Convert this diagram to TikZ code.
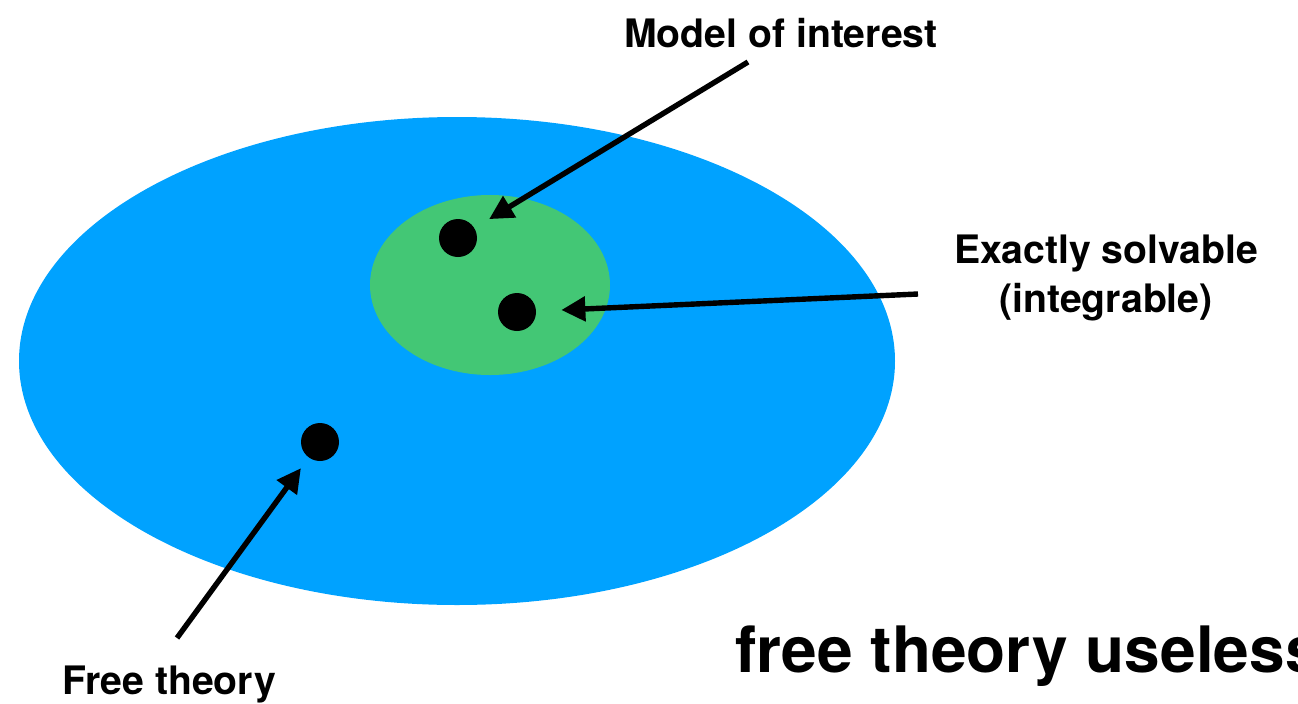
\documentclass[tikz,border=0pt]{standalone}
\usepackage{fontspec}
\setmainfont{TeX Gyre Heros}
\usepackage{tikz}
\usetikzlibrary{arrows.meta,positioning}
\definecolor{setblue}{HTML}{00A2FF}
\definecolor{setgreen}{HTML}{43C775}
\tikzset{
  vdot/.style={circle,fill=black,minimum size=19pt,inner sep=0pt},
  varr/.style={-{Triangle[length=12pt,width=12pt]},line width=2.7pt,draw=black},
  vlabel/.style={font=\fontsize{19.6}{24.5}\selectfont\bfseries,align=center,inner sep=0pt}
}
\begin{document}
\begin{tikzpicture}[x=0.5pt,y=-0.5pt]
  \useasboundingbox (0,0) rectangle (1298,703);
  \clip (0,0) rectangle (1298,703);
  % sets
  \fill[setblue] (457,361) ellipse [x radius=438, y radius=244];
  \fill[setgreen] (490,285) ellipse [x radius=120, y radius=90];
  % points
  \node[vdot] (dint) at (458,238) {};
  \node[vdot] (dsolv) at (517,312) {};
  \node[vdot] (dfree) at (320,442) {};
  % labels
  \node[vlabel] (lint) at (781,33) {Model of interest};
  \node[vlabel] (lsolv) at (1106,278) {Exactly solvable\\(integrable)};
  \node[vlabel] (lfree) at (169,684) {Free theory};
  \node[font=\fontsize{32}{38}\selectfont\bfseries,anchor=base west,inner sep=0pt] (useless) at (735,672) {free theory useless};
  % arrows
  \coordinate (tint) at (748,62);
  \coordinate (tsolv) at (918,294);
  \coordinate (tfree) at (177,638);
  \draw[varr,shorten >=8.5pt] (tint) -- (dint);
  \draw[varr,shorten >=12.5pt] (tsolv) -- (dsolv);
  \draw[varr,shorten >=6.5pt] (tfree) -- (dfree);
\end{tikzpicture}
\end{document}
